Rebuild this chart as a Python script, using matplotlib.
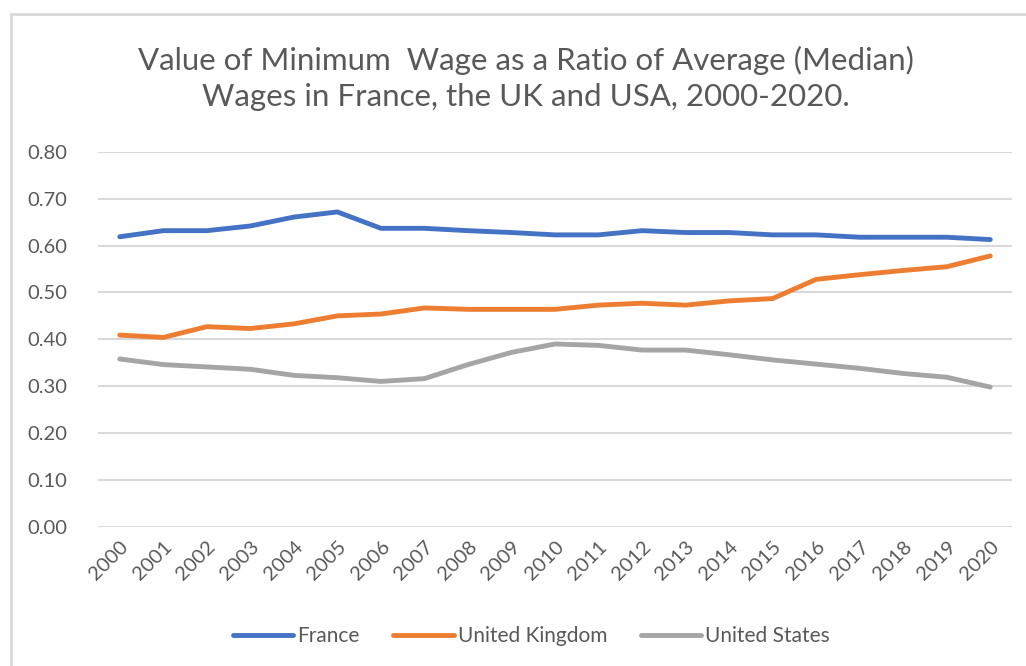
import matplotlib.pyplot as plt
from matplotlib.patches import Rectangle

years = [str(y) for y in range(2000, 2021)]
france = [0.619, 0.632, 0.632, 0.642, 0.661, 0.672, 0.637, 0.637, 0.632, 0.628, 0.623,
          0.623, 0.632, 0.628, 0.628, 0.623, 0.623, 0.618, 0.618, 0.618, 0.613]
uk = [0.409, 0.404, 0.427, 0.423, 0.433, 0.450, 0.454, 0.467, 0.464, 0.464, 0.464,
      0.473, 0.477, 0.473, 0.482, 0.487, 0.528, 0.538, 0.547, 0.555, 0.578]
us = [0.358, 0.346, 0.341, 0.336, 0.323, 0.318, 0.310, 0.316, 0.346, 0.372, 0.390,
      0.387, 0.377, 0.377, 0.367, 0.356, 0.347, 0.338, 0.327, 0.319, 0.298]
yticks = [0.0, 0.1, 0.2, 0.3, 0.4, 0.5, 0.6, 0.7, 0.8]

txt = '#595959'
plt.rcParams['font.family'] = ['Lato', 'DejaVu Sans']

fig = plt.figure(figsize=(10.26, 6.66), dpi=100)
# chart frame like the Excel chart area
fig.patches.append(Rectangle((11 / 1026, -0.1), 1.2, (666 - 14) / 666 + 0.1,
                             transform=fig.transFigure, fill=False,
                             edgecolor='#d9d9d9', linewidth=2))

ax = fig.add_axes([98 / 1026, (666 - 526.6) / 666, (1012 - 98) / 1026, (526.6 - 152) / 666])
x = range(len(years))
ax.plot(x, france, color='#4472c4', lw=3.5, label='France', solid_capstyle='round')
ax.plot(x, uk, color='#ed7d31', lw=3.5, label='United Kingdom', solid_capstyle='round')
ax.plot(x, us, color='#a5a5a5', lw=3.5, label='United States', solid_capstyle='round')

ax.set_xlim(-0.5, len(years) - 0.5)
ax.set_ylim(0, 0.8)
ax.set_yticks(yticks)
ax.set_yticklabels([f'{v:.2f}' for v in yticks], fontsize=14.5, color=txt)
ax.set_xticks(list(x))
ax.set_xticklabels(years, rotation=45, ha='right', rotation_mode='anchor', fontsize=14.5, color=txt)
ax.tick_params(length=0, pad=22, axis='y')
ax.tick_params(length=0, pad=8, axis='x')
ax.grid(axis='y', color='#d9d9d9', lw=1.5)
ax.set_axisbelow(True)
for s in ax.spines.values():
    s.set_visible(False)

fig.text(0.513, 0.882, 'Value of Minimum  Wage as a Ratio of Average (Median)\nWages in France, the UK and USA, 2000-2020.',
         ha='center', va='center', fontsize=22.5, color=txt, linespacing=1.35)

fig.legend(loc='center', bbox_to_anchor=(0.518, 0.045), ncol=3, frameon=False,
           fontsize=15, labelcolor=txt, handlelength=2.9, handletextpad=0.2, columnspacing=1.6)

fig.savefig('out.png', dpi=100)
